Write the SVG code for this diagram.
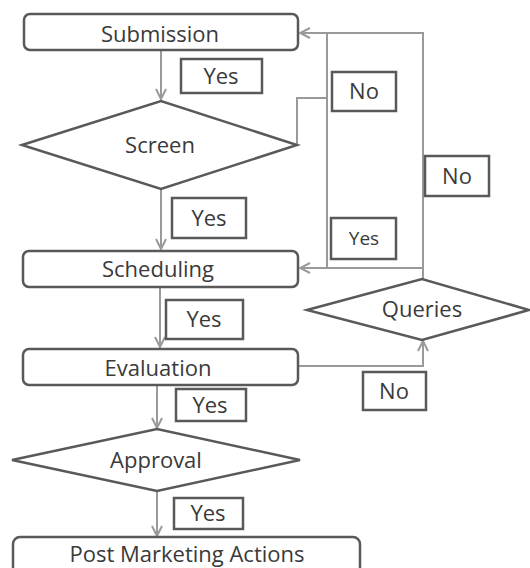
<svg xmlns="http://www.w3.org/2000/svg" width="530" height="568" viewBox="0 0 530 568">
<style>
.node{fill:#ffffff;stroke:#595959;stroke-width:2.5}
.lbl{fill:#ffffff;stroke:#595959;stroke-width:2.5}
.t{font-family:"Open Sans","Noto Sans",sans-serif;font-size:22px;fill:#3a3a3a;text-anchor:middle}
.c{fill:none;stroke:#9a9a9a;stroke-width:2}
</style>
<defs>
<marker id="ah" viewBox="0 0 12 12" refX="11" refY="6" markerWidth="12" markerHeight="12" markerUnits="userSpaceOnUse" orient="auto">
<path d="M1,1 L11,6 L1,11" fill="none" stroke="#9a9a9a" stroke-width="2"/>
</marker>
</defs>
<rect width="530" height="568" fill="#ffffff"/>
<g id="connectors">
<line class="c" x1="161" y1="51" x2="161" y2="99" marker-end="url(#ah)"/>
<line class="c" x1="161" y1="189" x2="161" y2="249" marker-end="url(#ah)"/>
<line class="c" x1="160" y1="288" x2="160" y2="347" marker-end="url(#ah)"/>
<line class="c" x1="157" y1="386" x2="157" y2="428" marker-end="url(#ah)"/>
<line class="c" x1="157" y1="491" x2="157" y2="536" marker-end="url(#ah)"/>
<polyline class="c" points="297,145 297,98 327,98"/>
<polyline class="c" points="327,33 327,268 300,268" marker-end="url(#ah)"/>
<polyline class="c" points="423,279 423,33 300,33" marker-end="url(#ah)"/>
<line class="c" x1="327" y1="268" x2="423" y2="268"/>
<polyline class="c" points="298,366 423,366 423,341" marker-end="url(#ah)"/>
</g>
<g id="submission"><rect class="node" x="24" y="14" width="274" height="36" rx="6"/><text class="t" x="160" y="42">Submission</text></g>
<g id="screen"><polygon class="node" points="22,145 161,101 297,145 161,189"/><text class="t" x="160" y="153">Screen</text></g>
<g id="scheduling"><rect class="node" x="23" y="251" width="275" height="36" rx="6"/><text class="t" x="158" y="277">Scheduling</text></g>
<g id="queries"><polygon class="node" points="307,310 422,279 529,310 422,340"/><text class="t" x="422" y="317">Queries</text></g>
<g id="evaluation"><rect class="node" x="23" y="349" width="275" height="36" rx="6"/><text class="t" x="158" y="376">Evaluation</text></g>
<g id="approval"><polygon class="node" points="12,460 157,429 300,460 157,491"/><text class="t" x="156" y="468">Approval</text></g>
<g id="post"><rect class="node" x="13" y="537" width="347" height="50" rx="7"/><text class="t" x="187" y="562">Post Marketing Actions</text></g>
<g id="label-yes1"><rect class="lbl" x="181" y="59" width="81" height="34"/><text class="t" x="221" y="84">Yes</text></g>
<g id="label-no1"><rect class="lbl" x="332" y="72" width="64" height="39"/><text class="t" x="364" y="99">No</text></g>
<g id="label-no2"><rect class="lbl" x="425" y="156" width="64" height="40"/><text class="t" x="457" y="184">No</text></g>
<g id="label-yes2"><rect class="lbl" x="172" y="198" width="74" height="40"/><text class="t" x="209" y="226">Yes</text></g>
<g id="label-yes3"><rect class="lbl" x="331" y="218" width="65" height="41"/><text class="t" x="364" y="245" style="font-size:19px">Yes</text></g>
<g id="label-yes4"><rect class="lbl" x="166" y="300" width="77" height="39"/><text class="t" x="204" y="327">Yes</text></g>
<g id="label-no3"><rect class="lbl" x="363" y="372" width="63" height="38"/><text class="t" x="394" y="399">No</text></g>
<g id="label-yes5"><rect class="lbl" x="176" y="389" width="70" height="32"/><text class="t" x="210" y="413">Yes</text></g>
<g id="label-yes6"><rect class="lbl" x="174" y="498" width="69" height="31"/><text class="t" x="208" y="521">Yes</text></g>
</svg>
